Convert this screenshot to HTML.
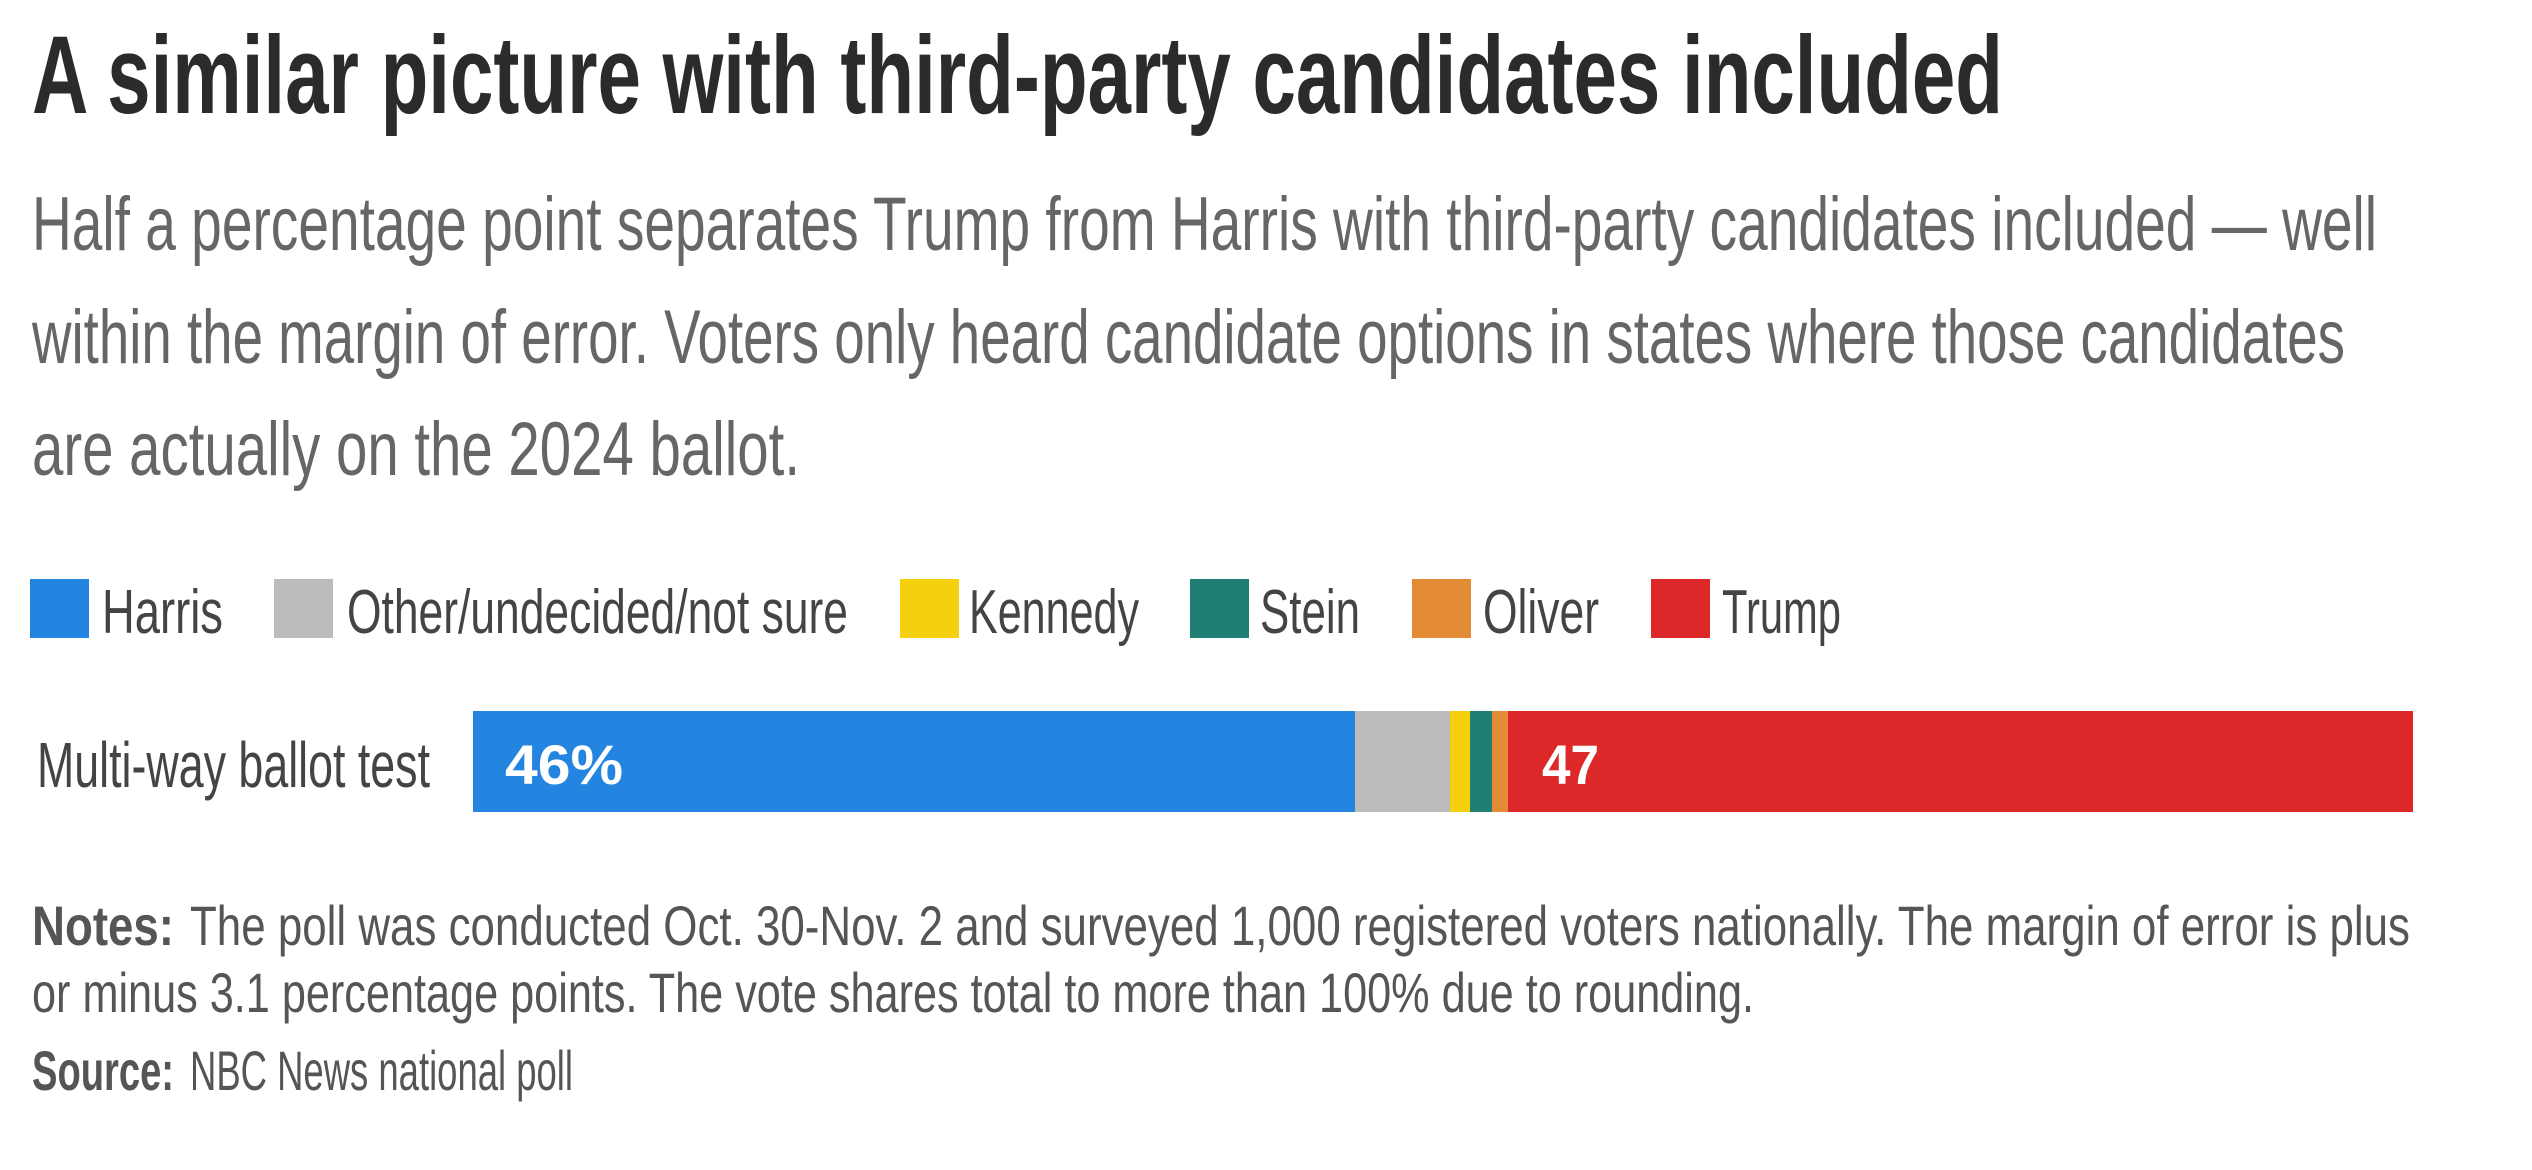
<!DOCTYPE html>
<html><head><meta charset="utf-8"><style>
html,body{margin:0;padding:0;background:#fff;}
svg{display:block;}
text{font-family:"Liberation Sans",sans-serif;}
</style></head><body>
<svg width="2532" height="1170" viewBox="0 0 2532 1170" xmlns="http://www.w3.org/2000/svg">
<rect width="2532" height="1170" fill="#fff"/>
<text x="32" y="113" font-size="110" font-weight="bold" fill="#2b2b2b" textLength="1971" lengthAdjust="spacingAndGlyphs">A similar picture with third-party candidates included</text>
<g font-size="76" fill="#666">
<text x="32" y="250" textLength="2345" lengthAdjust="spacingAndGlyphs">Half a percentage point separates Trump from Harris with third-party candidates included — well</text>
<text x="32" y="363" textLength="2313" lengthAdjust="spacingAndGlyphs">within the margin of error. Voters only heard candidate options in states where those candidates</text>
<text x="32" y="475" textLength="768" lengthAdjust="spacingAndGlyphs">are actually on the 2024 ballot.</text>
</g>
<g font-size="62" fill="#444">
<rect x="30" y="579" width="59" height="59" fill="#2385e0"/>
<text x="102" y="633" textLength="121" lengthAdjust="spacingAndGlyphs">Harris</text>
<rect x="274" y="579" width="59" height="59" fill="#bcbcbc"/>
<text x="347" y="633" textLength="501" lengthAdjust="spacingAndGlyphs">Other/undecided/not sure</text>
<rect x="900" y="579" width="59" height="59" fill="#f5d00f"/>
<text x="969" y="633" textLength="170" lengthAdjust="spacingAndGlyphs">Kennedy</text>
<rect x="1190" y="579" width="59" height="59" fill="#1f7f74"/>
<text x="1260" y="633" textLength="100" lengthAdjust="spacingAndGlyphs">Stein</text>
<rect x="1412" y="579" width="59" height="59" fill="#e38c35"/>
<text x="1483" y="633" textLength="116" lengthAdjust="spacingAndGlyphs">Oliver</text>
<rect x="1651" y="579" width="59" height="59" fill="#dc2828"/>
<text x="1722" y="633" textLength="119" lengthAdjust="spacingAndGlyphs">Trump</text>
</g>
<text x="37" y="787" font-size="64" fill="#444" textLength="393" lengthAdjust="spacingAndGlyphs">Multi-way ballot test</text>
<rect x="473" y="711" width="882" height="101" fill="#2385e0"/>
<rect x="1355" y="711" width="95" height="101" fill="#bcbcbc"/>
<rect x="1450" y="711" width="20" height="101" fill="#f5d00f"/>
<rect x="1470" y="711" width="22" height="101" fill="#1f7f74"/>
<rect x="1492" y="711" width="16" height="101" fill="#e38c35"/>
<rect x="1508" y="711" width="905" height="101" fill="#dc2828"/>
<text x="505" y="784" font-size="56" font-weight="bold" fill="#fff" textLength="118" lengthAdjust="spacingAndGlyphs">46%</text>
<text x="1542" y="784" font-size="56" font-weight="bold" fill="#fff" textLength="57" lengthAdjust="spacingAndGlyphs">47</text>
<g font-size="56" fill="#555">
<text x="32" y="945" font-weight="bold" textLength="142" lengthAdjust="spacingAndGlyphs">Notes:</text>
<text x="190" y="945" textLength="2220" lengthAdjust="spacingAndGlyphs">The poll was conducted Oct. 30-Nov. 2 and surveyed 1,000 registered voters nationally. The margin of error is plus</text>
<text x="32" y="1012" textLength="1722" lengthAdjust="spacingAndGlyphs">or minus 3.1 percentage points. The vote shares total to more than 100% due to rounding.</text>
<text x="32" y="1090" font-weight="bold" textLength="142" lengthAdjust="spacingAndGlyphs">Source:</text>
<text x="190" y="1090" textLength="383" lengthAdjust="spacingAndGlyphs">NBC News national poll</text>
</g>
</svg>
</body></html>
